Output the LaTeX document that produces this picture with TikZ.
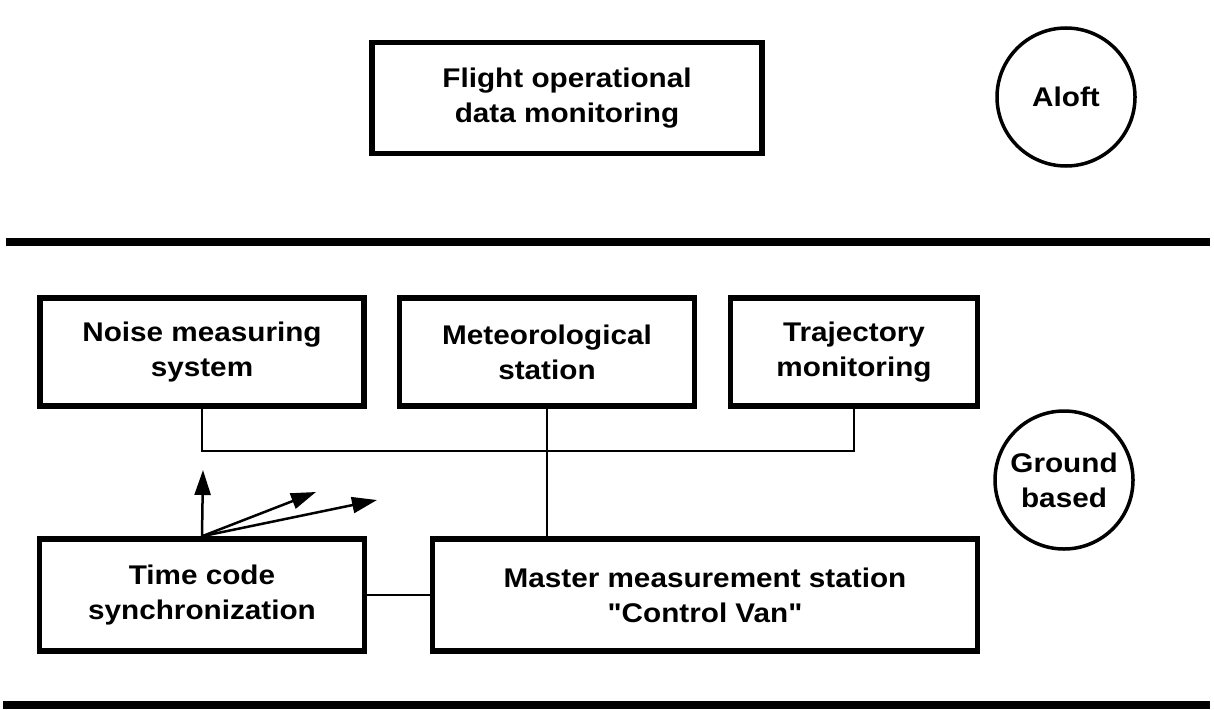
\documentclass[tikz,border=0pt]{standalone}
\usepackage{fontspec}
\newfontfamily\labelfont{Liberation Sans}[FakeStretch=1.1, BoldFeatures={FakeStretch=1.1}]
\usetikzlibrary{arrows.meta}
\begin{document}
\begin{tikzpicture}[x=1pt,y=-1pt,
  every node/.style={font=\labelfont\fontsize{27}{35}\selectfont\bfseries, align=center, inner sep=0pt},
  box/.style={draw, line width=5.5pt},
  ring/.style={draw, circle, line width=3.5pt, minimum size=138pt},
  wire/.style={line width=2pt},
  divider/.style={line width=8.5pt},
  tick/.style={line width=2.5pt, -{Triangle[length=25pt,width=16pt]}}]
\useasboundingbox (0,0) rectangle (1214,709);
\node[box, minimum width=390pt, minimum height=111pt] (flight) at (567,98) {Flight operational\\data monitoring};
\node[ring] (aloft) at (1066,97) {Aloft};
\draw[divider] (6,242) -- (1210,242);
\node[box, minimum width=324pt, minimum height=108pt] (noise) at (202,352) {Noise measuring\\system};
\node[box, minimum width=295pt, minimum height=108pt] (met) at (547,352) {Meteorological\\station};
\node[box, minimum width=247pt, minimum height=108pt] (traj) at (854,352) {Trajectory\\monitoring};
\node[ring] (ground) at (1064,480) {Ground\\based};
\node[box, minimum width=325pt, minimum height=112pt] (time) at (202,595) {Time code\\synchronization};
\node[box, minimum width=545pt, minimum height=112pt] (master) at (705,595) {Master measurement station\\"Control Van"};
\coordinate (hub) at (547,451);
\draw[wire] (noise.south) |- (hub) -| (traj.south);
\draw[wire] (met.south) -- (met.south |- master.north);
\draw[wire] (time.east) -- (master.west);
\coordinate (tipA) at (203,470);
\coordinate (tipB) at (316,492);
\coordinate (tipC) at (377,500);
\draw[tick] (time.north) -- (tipA);
\draw[tick] (time.north) -- (tipB);
\draw[tick] (time.north) -- (tipC);
\draw[divider] (3,705) -- (1210,705);
\end{tikzpicture}
\end{document}
